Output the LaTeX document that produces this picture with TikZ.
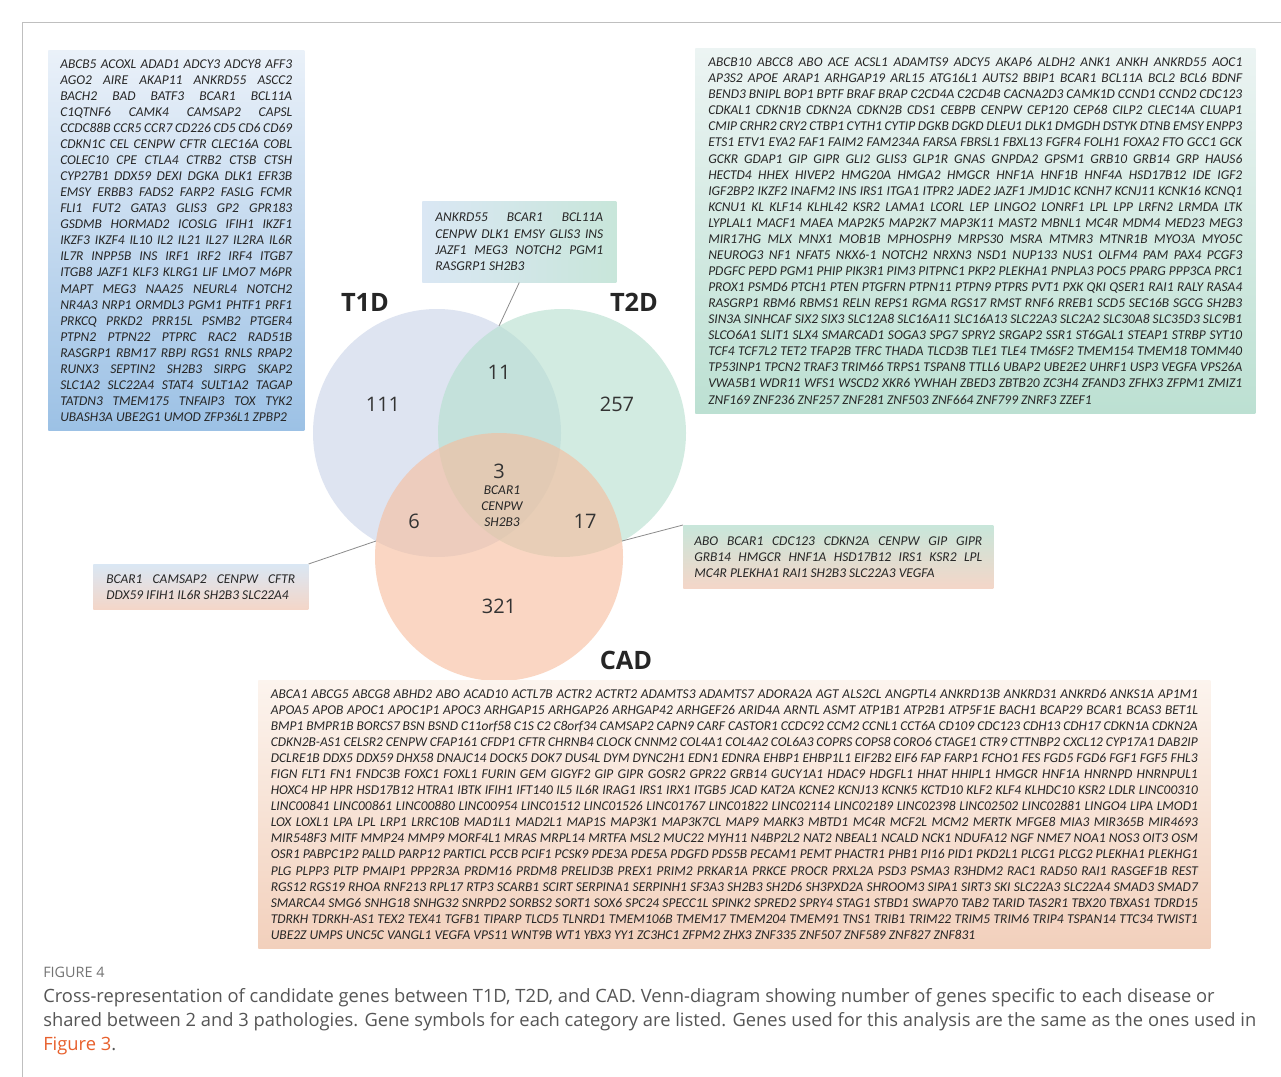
\documentclass[tikz,border=0pt]{standalone}
\usepackage{fontspec}
\setmainfont{Open Sans}
\newfontfamily\genefont{Carlito}
\usepackage{xcolor}
\definecolor{bluetop}{RGB}{234,241,249}
\definecolor{bluebot}{RGB}{156,193,229}
\definecolor{tealtop}{RGB}{236,244,243}
\definecolor{tealbot}{RGB}{188,224,210}
\definecolor{peachtop}{RGB}{252,244,238}
\definecolor{peachbot}{RGB}{242,208,188}
\definecolor{mixblue}{RGB}{218,231,244}
\definecolor{mixteal}{RGB}{200,230,218}
\definecolor{mixpeach}{RGB}{244,214,200}
\definecolor{vennblue}{RGB}{200,210,232}
\definecolor{venngreen}{RGB}{180,223,205}
\definecolor{vennpeach}{RGB}{247,188,155}
\definecolor{captiongray}{RGB}{85,85,85}
\definecolor{linkorange}{RGB}{232,96,44}
\usetikzlibrary{positioning}

% rows of gene symbols: justified rows and a closing row
\newlength{\rowwd}
\newcommand{\genrow}[1]{\makebox[\rowwd][s]{\spaceskip=0pt\xspaceskip=0pt #1}\\}
\newcommand{\lastrow}[1]{{\spaceskip=0pt\xspaceskip=0pt #1}}

\tikzset{
  genebox/.style={anchor=north west, align=left, inner ysep=0pt,
    font=\genefont\itshape\fontsize{10.1}{12.05}\selectfont, text=black!85},
  rowwidth/.code={\setlength{\rowwd}{#1}\pgfkeysalso{text width=#1}},
  venncircle/.style={circle, minimum size=186pt, inner sep=0pt, fill opacity=0.6},
  setlabel/.style={font=\bfseries\fontsize{19}{19}\selectfont, text=black!85},
  vennnum/.style={font=\fontsize{15}{15}\selectfont, text=black!80},
  pointer/.style={draw=black!45, line width=0.6pt},
  framerule/.style={draw=black!25, line width=0.6pt}
}

\begin{document}
\begin{tikzpicture}[x=0.75pt, y=-0.75pt]
\useasboundingbox (0,0) rectangle (1281,1077);
\fill[white] (0,0) rectangle (1281,1077);
\draw[framerule] (22,1077) -- (22,22) -- (1281,22);

% Venn circles
\node[venncircle, fill=vennblue] (t1d) at (437,433) {};
\node[venncircle, fill=venngreen] (t2d) at (562,433) {};
\node[venncircle, fill=vennpeach] (cad) at (499,557) {};

\node[setlabel] (t1dlab) at (365,302) {T1D};
\node[setlabel] (t2dlab) at (634,302) {T2D};
\node[setlabel] (cadlab) at (626,660) {CAD};

\node[vennnum] (n111) at (383,404) {111};
\node[vennnum] (n11) at (499,372) {11};
\node[vennnum] (n257) at (617,404) {257};
\node[vennnum] (n3) at (499,471) {3};
\node[vennnum] (n6) at (414,521) {6};
\node[vennnum] (n17) at (585,521) {17};
\node[vennnum] (n321) at (499,606) {321};
\node[genebox, anchor=north, align=center] (core) at (502,485) {BCAR1\\CENPW\\SH2B3};

% T1D list
\node[genebox, inner xsep=9pt, rowwidth=174pt, minimum height=285pt,
      top color=bluetop, bottom color=bluebot] (t1dgenes) at (48,50) {%
\genrow{ABCB5 ACOXL ADAD1 ADCY3 ADCY8 AFF3}
\genrow{AGO2 AIRE AKAP11 ANKRD55 ASCC2}
\genrow{BACH2 BAD BATF3 BCAR1 BCL11A}
\genrow{C1QTNF6 CAMK4 CAMSAP2 CAPSL}
\genrow{CCDC88B CCR5 CCR7 CD226 CD5 CD6 CD69}
\genrow{CDKN1C CEL CENPW CFTR CLEC16A COBL}
\genrow{COLEC10 CPE CTLA4 CTRB2 CTSB CTSH}
\genrow{CYP27B1 DDX59 DEXI DGKA DLK1 EFR3B}
\genrow{EMSY ERBB3 FADS2 FARP2 FASLG FCMR}
\genrow{FLI1 FUT2 GATA3 GLIS3 GP2 GPR183}
\genrow{GSDMB HORMAD2 ICOSLG IFIH1 IKZF1}
\genrow{IKZF3 IKZF4 IL10 IL2 IL21 IL27 IL2RA IL6R}
\genrow{IL7R INPP5B INS IRF1 IRF2 IRF4 ITGB7}
\genrow{ITGB8 JAZF1 KLF3 KLRG1 LIF LMO7 M6PR}
\genrow{MAPT MEG3 NAA25 NEURL4 NOTCH2}
\genrow{NR4A3 NRP1 ORMDL3 PGM1 PHTF1 PRF1}
\genrow{PRKCQ PRKD2 PRR15L PSMB2 PTGER4}
\genrow{PTPN2 PTPN22 PTPRC RAC2 RAD51B}
\genrow{RASGRP1 RBM17 RBPJ RGS1 RNLS RPAP2}
\genrow{RUNX3 SEPTIN2 SH2B3 SIRPG SKAP2}
\genrow{SLC1A2 SLC22A4 STAT4 SULT1A2 TAGAP}
\genrow{TATDN3 TMEM175 TNFAIP3 TOX TYK2}
\lastrow{UBASH3A UBE2G1 UMOD ZFP36L1 ZPBP2}};

% T2D list
\node[genebox, inner xsep=9.75pt, rowwidth=400.5pt, minimum height=273.75pt,
      top color=tealtop, bottom color=tealbot] (t2dgenes) at (695,48) {%
\genrow{ABCB10 ABCC8 ABO ACE ACSL1 ADAMTS9 ADCY5 AKAP6 ALDH2 ANK1 ANKH ANKRD55 AOC1}
\genrow{AP3S2 APOE ARAP1 ARHGAP19 ARL15 ATG16L1 AUTS2 BBIP1 BCAR1 BCL11A BCL2 BCL6 BDNF}
\genrow{BEND3 BNIPL BOP1 BPTF BRAF BRAP C2CD4A C2CD4B CACNA2D3 CAMK1D CCND1 CCND2 CDC123}
\genrow{CDKAL1 CDKN1B CDKN2A CDKN2B CDS1 CEBPB CENPW CEP120 CEP68 CILP2 CLEC14A CLUAP1}
\genrow{CMIP CRHR2 CRY2 CTBP1 CYTH1 CYTIP DGKB DGKD DLEU1 DLK1 DMGDH DSTYK DTNB EMSY ENPP3}
\genrow{ETS1 ETV1 EYA2 FAF1 FAIM2 FAM234A FARSA FBRSL1 FBXL13 FGFR4 FOLH1 FOXA2 FTO GCC1 GCK}
\genrow{GCKR GDAP1 GIP GIPR GLI2 GLIS3 GLP1R GNAS GNPDA2 GPSM1 GRB10 GRB14 GRP HAUS6}
\genrow{HECTD4 HHEX HIVEP2 HMG20A HMGA2 HMGCR HNF1A HNF1B HNF4A HSD17B12 IDE IGF2}
\genrow{IGF2BP2 IKZF2 INAFM2 INS IRS1 ITGA1 ITPR2 JADE2 JAZF1 JMJD1C KCNH7 KCNJ11 KCNK16 KCNQ1}
\genrow{KCNU1 KL KLF14 KLHL42 KSR2 LAMA1 LCORL LEP LINGO2 LONRF1 LPL LPP LRFN2 LRMDA LTK}
\genrow{LYPLAL1 MACF1 MAEA MAP2K5 MAP2K7 MAP3K11 MAST2 MBNL1 MC4R MDM4 MED23 MEG3}
\genrow{MIR17HG MLX MNX1 MOB1B MPHOSPH9 MRPS30 MSRA MTMR3 MTNR1B MYO3A MYO5C}
\genrow{NEUROG3 NF1 NFAT5 NKX6-1 NOTCH2 NRXN3 NSD1 NUP133 NUS1 OLFM4 PAM PAX4 PCGF3}
\genrow{PDGFC PEPD PGM1 PHIP PIK3R1 PIM3 PITPNC1 PKP2 PLEKHA1 PNPLA3 POC5 PPARG PPP3CA PRC1}
\genrow{PROX1 PSMD6 PTCH1 PTEN PTGFRN PTPN11 PTPN9 PTPRS PVT1 PXK QKI QSER1 RAI1 RALY RASA4}
\genrow{RASGRP1 RBM6 RBMS1 RELN REPS1 RGMA RGS17 RMST RNF6 RREB1 SCD5 SEC16B SGCG SH2B3}
\genrow{SIN3A SINHCAF SIX2 SIX3 SLC12A8 SLC16A11 SLC16A13 SLC22A3 SLC2A2 SLC30A8 SLC35D3 SLC9B1}
\genrow{SLCO6A1 SLIT1 SLX4 SMARCAD1 SOGA3 SPG7 SPRY2 SRGAP2 SSR1 ST6GAL1 STEAP1 STRBP SYT10}
\genrow{TCF4 TCF7L2 TET2 TFAP2B TFRC THADA TLCD3B TLE1 TLE4 TM6SF2 TMEM154 TMEM18 TOMM40}
\genrow{TP53INP1 TPCN2 TRAF3 TRIM66 TRPS1 TSPAN8 TTLL6 UBAP2 UBE2E2 UHRF1 USP3 VEGFA VPS26A}
\genrow{VWA5B1 WDR11 WFS1 WSCD2 XKR6 YWHAH ZBED3 ZBTB20 ZC3H4 ZFAND3 ZFHX3 ZFPM1 ZMIZ1}
\lastrow{ZNF169 ZNF236 ZNF257 ZNF281 ZNF503 ZNF664 ZNF799 ZNRF3 ZZEF1}};

% CAD list
\node[genebox, inner xsep=9.4pt, rowwidth=695.25pt, minimum height=201pt,
      top color=peachtop, bottom color=peachbot] (cadgenes) at (258,680) {%
\genrow{ABCA1 ABCG5 ABCG8 ABHD2 ABO ACAD10 ACTL7B ACTR2 ACTRT2 ADAMTS3 ADAMTS7 ADORA2A AGT ALS2CL ANGPTL4 ANKRD13B ANKRD31 ANKRD6 ANKS1A AP1M1}
\genrow{APOA5 APOB APOC1 APOC1P1 APOC3 ARHGAP15 ARHGAP26 ARHGAP42 ARHGEF26 ARID4A ARNTL ASMT ATP1B1 ATP2B1 ATP5F1E BACH1 BCAP29 BCAR1 BCAS3 BET1L}
\genrow{BMP1 BMPR1B BORCS7 BSN BSND C11orf58 C1S C2 C8orf34 CAMSAP2 CAPN9 CARF CASTOR1 CCDC92 CCM2 CCNL1 CCT6A CD109 CDC123 CDH13 CDH17 CDKN1A CDKN2A}
\genrow{CDKN2B-AS1 CELSR2 CENPW CFAP161 CFDP1 CFTR CHRNB4 CLOCK CNNM2 COL4A1 COL4A2 COL6A3 COPRS COPS8 CORO6 CTAGE1 CTR9 CTTNBP2 CXCL12 CYP17A1 DAB2IP}
\genrow{DCLRE1B DDX5 DDX59 DHX58 DNAJC14 DOCK5 DOK7 DUS4L DYM DYNC2H1 EDN1 EDNRA EHBP1 EHBP1L1 EIF2B2 EIF6 FAP FARP1 FCHO1 FES FGD5 FGD6 FGF1 FGF5 FHL3}
\genrow{FIGN FLT1 FN1 FNDC3B FOXC1 FOXL1 FURIN GEM GIGYF2 GIP GIPR GOSR2 GPR22 GRB14 GUCY1A1 HDAC9 HDGFL1 HHAT HHIPL1 HMGCR HNF1A HNRNPD HNRNPUL1}
\genrow{HOXC4 HP HPR HSD17B12 HTRA1 IBTK IFIH1 IFT140 IL5 IL6R IRAG1 IRS1 IRX1 ITGB5 JCAD KAT2A KCNE2 KCNJ13 KCNK5 KCTD10 KLF2 KLF4 KLHDC10 KSR2 LDLR LINC00310}
\genrow{LINC00841 LINC00861 LINC00880 LINC00954 LINC01512 LINC01526 LINC01767 LINC01822 LINC02114 LINC02189 LINC02398 LINC02502 LINC02881 LINGO4 LIPA LMOD1}
\genrow{LOX LOXL1 LPA LPL LRP1 LRRC10B MAD1L1 MAD2L1 MAP1S MAP3K1 MAP3K7CL MAP9 MARK3 MBTD1 MC4R MCF2L MCM2 MERTK MFGE8 MIA3 MIR365B MIR4693}
\genrow{MIR548F3 MITF MMP24 MMP9 MORF4L1 MRAS MRPL14 MRTFA MSL2 MUC22 MYH11 N4BP2L2 NAT2 NBEAL1 NCALD NCK1 NDUFA12 NGF NME7 NOA1 NOS3 OIT3 OSM}
\genrow{OSR1 PABPC1P2 PALLD PARP12 PARTICL PCCB PCIF1 PCSK9 PDE3A PDE5A PDGFD PDS5B PECAM1 PEMT PHACTR1 PHB1 PI16 PID1 PKD2L1 PLCG1 PLCG2 PLEKHA1 PLEKHG1}
\genrow{PLG PLPP3 PLTP PMAIP1 PPP2R3A PRDM16 PRDM8 PRELID3B PREX1 PRIM2 PRKAR1A PRKCE PROCR PRXL2A PSD3 PSMA3 R3HDM2 RAC1 RAD50 RAI1 RASGEF1B REST}
\genrow{RGS12 RGS19 RHOA RNF213 RPL17 RTP3 SCARB1 SCIRT SERPINA1 SERPINH1 SF3A3 SH2B3 SH2D6 SH3PXD2A SHROOM3 SIPA1 SIRT3 SKI SLC22A3 SLC22A4 SMAD3 SMAD7}
\genrow{SMARCA4 SMG6 SNHG18 SNHG32 SNRPD2 SORBS2 SORT1 SOX6 SPC24 SPECC1L SPINK2 SPRED2 SPRY4 STAG1 STBD1 SWAP70 TAB2 TARID TAS2R1 TBX20 TBXAS1 TDRD15}
\genrow{TDRKH TDRKH-AS1 TEX2 TEX41 TGFB1 TIPARP TLCD5 TLNRD1 TMEM106B TMEM17 TMEM204 TMEM91 TNS1 TRIB1 TRIM22 TRIM5 TRIM6 TRIP4 TSPAN14 TTC34 TWIST1}
\lastrow{UBE2Z UMPS UNC5C VANGL1 VEGFA VPS11 WNT9B WT1 YBX3 YY1 ZC3HC1 ZFPM2 ZHX3 ZNF335 ZNF507 ZNF589 ZNF827 ZNF831}};

% shared lists
\node[genebox, inner xsep=9.75pt, rowwidth=126pt, minimum height=60.75pt,
      left color=mixblue, right color=mixteal] (t1t2genes) at (422,201) {%
\genrow{ANKRD55 BCAR1 BCL11A}
\genrow{CENPW DLK1 EMSY GLIS3 INS}
\genrow{JAZF1 MEG3 NOTCH2 PGM1}
\lastrow{RASGRP1 SH2B3}};

\node[genebox, inner xsep=8.25pt, rowwidth=216pt, minimum height=47.25pt,
      top color=mixteal, bottom color=mixpeach] (t2cadgenes) at (683,525) {%
\genrow{ABO BCAR1 CDC123 CDKN2A CENPW GIP GIPR}
\genrow{GRB14 HMGCR HNF1A HSD17B12 IRS1 KSR2 LPL}
\lastrow{MC4R PLEKHA1 RAI1 SH2B3 SLC22A3 VEGFA}};

\node[genebox, inner xsep=9.75pt, rowwidth=141.75pt, minimum height=33.75pt,
      top color=mixblue, bottom color=mixpeach] (t1cadgenes) at (93,564) {%
\genrow{BCAR1 CAMSAP2 CENPW CFTR}
\lastrow{DDX59 IFIH1 IL6R SH2B3 SLC22A4}};

% pointers into the lenses
\coordinate (cuspT) at (499,326);
\coordinate (cuspL) at (376,541);
\coordinate (cuspR) at (622,541);
\draw[pointer] (t1t2genes.south) -- (cuspT);
\draw[pointer] (t2cadgenes.north west) -- (cuspR);
\draw[pointer] (t1cadgenes.north east) -- (cuspL);

% caption
\node[anchor=west, inner sep=0pt, font=\fontsize{10.8}{11}\selectfont, text=black!55]
  (figlabel) at (43,972) {FIGURE 4};
\node[below=8pt of figlabel.south west, anchor=north west, inner sep=0pt, align=left,
      font=\fontsize{13.75}{18}\selectfont, text=captiongray] (figcaption) {%
Cross-representation of candidate genes between T1D, T2D, and CAD. Venn-diagram showing number of genes specific to each disease or\\
shared between 2 and 3 pathologies. Gene symbols for each category are listed. Genes used for this analysis are the same as the ones used in\\
\textcolor{linkorange}{Figure 3}.};
\end{tikzpicture}
\end{document}
